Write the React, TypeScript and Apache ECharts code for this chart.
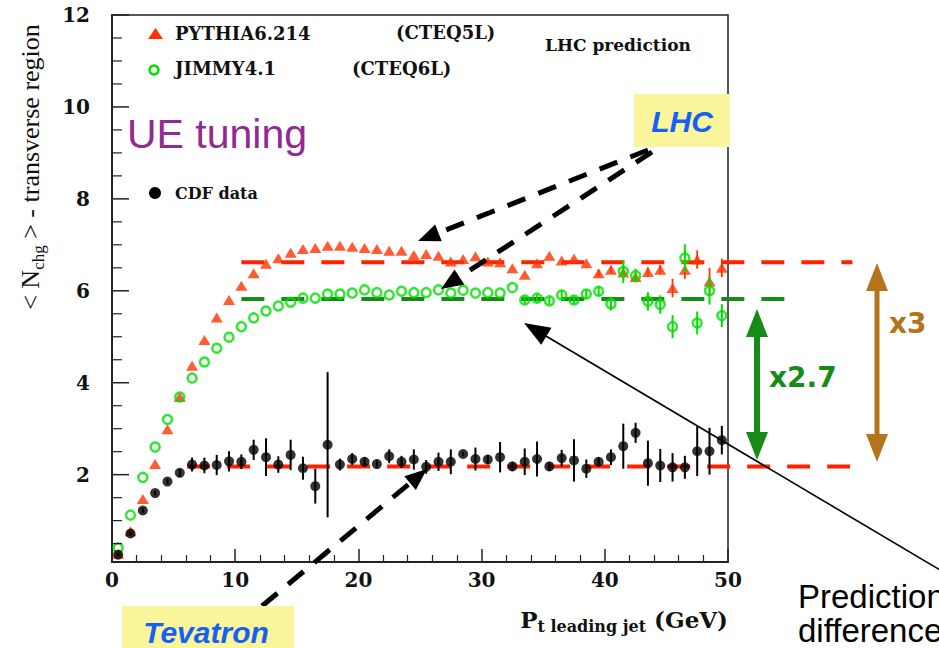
import React, { useEffect, useRef } from "react";
import * as echarts from "echarts";

// ---- data ----
const ptBins = [
  0.5, 1.5, 2.5, 3.5, 4.5, 5.5, 6.5, 7.5, 8.5, 9.5,
  10.5, 11.5, 12.5, 13.5, 14.5, 15.5, 16.5, 17.5, 18.5, 19.5,
  20.5, 21.5, 22.5, 23.5, 24.5, 25.5, 26.5, 27.5, 28.5, 29.5,
  30.5, 31.5, 32.5, 33.5, 34.5, 35.5, 36.5, 37.5, 38.5, 39.5,
  40.5, 41.5, 42.5, 43.5, 44.5, 45.5, 46.5, 47.5, 48.5, 49.5,
];

const cdfValues = [
  0.26, 0.72, 1.22, 1.6, 1.85, 2.04, 2.22, 2.2, 2.21, 2.29,
  2.28, 2.54, 2.38, 2.22, 2.43, 2.14, 1.75, 2.65, 2.22, 2.34,
  2.28, 2.23, 2.4, 2.28, 2.33, 2.17, 2.28, 2.28, 2.45, 2.34,
  2.33, 2.38, 2.18, 2.28, 2.34, 2.18, 2.36, 2.31, 2.13, 2.28,
  2.38, 2.62, 2.91, 2.25, 2.2, 2.16, 2.16, 2.51, 2.51, 2.75,
];
const cdfErrors = [
  0.03, 0.04, 0.05, 0.05, 0.06, 0.08, 0.15, 0.17, 0.22, 0.22,
  0.16, 0.22, 0.41, 0.18, 0.33, 0.25, 0.38, 1.58, 0.13, 0.13,
  0.1, 0.1, 0.15, 0.13, 0.22, 0.15, 0.2, 0.27, 0.05, 0.25,
  0.1, 0.33, 0.1, 0.29, 0.38, 0.1, 0.18, 0.46, 0.2, 0.1,
  0.17, 0.49, 0.22, 0.49, 0.36, 0.31, 0.25, 0.54, 0.51, 0.31,
];

const pythiaValues = [
  0.28, 0.77, 1.47, 2.23, 2.99, 3.69, 4.37, 4.93, 5.42, 5.8,
  6.11, 6.38, 6.59, 6.71, 6.83, 6.91, 6.93, 6.98, 6.98, 6.96,
  6.93, 6.91, 6.87, 6.87, 6.78, 6.8, 6.76, 6.64, 6.69, 6.75,
  6.64, 6.62, 6.49, 6.35, 6.6, 6.76, 6.66, 6.7, 6.6, 6.38,
  6.46, 6.4, 6.3, 6.41, 6.46, 6.06, 6.46, 6.68, 6.2, 6.5,
];
const pythiaErrors = [
  0, 0, 0, 0, 0, 0, 0, 0, 0, 0,
  0, 0, 0, 0, 0, 0, 0, 0, 0, 0,
  0, 0, 0, 0, 0, 0, 0, 0, 0, 0,
  0, 0, 0, 0, 0, 0, 0, 0, 0, 0.08,
  0.08, 0.15, 0.1, 0.1, 0.1, 0.2, 0.2, 0.2, 0.3, 0.2,
];

const jimmyValues = [
  0.41, 1.12, 1.94, 2.6, 3.2, 3.69, 4.1, 4.45, 4.75, 4.99,
  5.22, 5.41, 5.56, 5.67, 5.75, 5.84, 5.84, 5.93, 5.93, 5.95,
  6.02, 5.96, 5.91, 5.99, 5.96, 5.96, 6.02, 5.95, 6.01, 5.95,
  5.96, 5.95, 6.07, 5.8, 5.84, 5.78, 5.91, 5.8, 5.93, 5.99,
  5.72, 6.42, 6.33, 5.77, 5.7, 5.22, 6.71, 5.3, 6.0, 5.46,
];
const jimmyErrors = [
  0, 0, 0, 0, 0, 0, 0, 0, 0, 0,
  0, 0, 0, 0, 0, 0, 0, 0, 0, 0,
  0, 0, 0, 0, 0, 0, 0, 0, 0, 0,
  0, 0, 0, 0.08, 0.08, 0.08, 0.1, 0.08, 0.1, 0.1,
  0.15, 0.25, 0.15, 0.2, 0.2, 0.25, 0.3, 0.25, 0.3, 0.25,
];

// plateau reference levels (value, start pT, end pT)
const pythiaLevel = 6.62;
const pythiaLevelRange = [10.5, 60.1];
const jimmyLevel = 5.82;
const jimmyLevelRange = [10.5, 54.9];
const cdfLevel = 2.18;
const cdfLevelRange = [6.1, 60.5];

const xTickInterval = 10;
const yTickValues = [2, 4, 6, 8, 10, 12];
const yMinorTickValues = [
  0.5, 1, 1.5, 2.5, 3, 3.5, 4.5, 5, 5.5, 6.5, 7, 7.5,
  8.5, 9, 9.5, 10.5, 11, 11.5,
];

// ---- styles ----
const RED = "#FF3300";
const GREEN = "#00E000";
const DGREEN = "#178A17";
const BROWN = "#B3741A";
const YELLOW = "#FBF59B";
const BLUE = "#1560F5";
const SERIF_B = '"DejaVu Serif"';
const AXIS = "#222";

function head(tip: number[], from: number[], len: number, half: number, color: string) {
  const dx = tip[0] - from[0];
  const dy = tip[1] - from[1];
  const L = Math.hypot(dx, dy);
  const ux = dx / L;
  const uy = dy / L;
  const bx = tip[0] - ux * len;
  const by = tip[1] - uy * len;
  return {
    type: "polygon",
    z: 100,
    shape: {
      points: [
        [tip[0], tip[1]],
        [bx - uy * half, by + ux * half],
        [bx + uy * half, by - ux * half],
      ],
    },
    style: { fill: color },
  };
}

function arrow(
  from: number[],
  tip: number[],
  color: string,
  width: number,
  len: number,
  half: number,
  dash?: number[],
  double?: boolean
) {
  const dx = tip[0] - from[0];
  const dy = tip[1] - from[1];
  const L = Math.hypot(dx, dy);
  const ux = dx / L;
  const uy = dy / L;
  const start = double ? [from[0] + ux * (len - 2), from[1] + uy * (len - 2)] : from;
  const end = [tip[0] - ux * (len - 2), tip[1] - uy * (len - 2)];
  const els: any[] = [
    {
      type: "line",
      z: 100,
      shape: { x1: start[0], y1: start[1], x2: end[0], y2: end[1] },
      style: { stroke: color, lineWidth: width, lineDash: dash || null },
    },
    head(tip, from, len, half, color),
  ];
  if (double) els.push(head(from, tip, len, half, color));
  return els;
}

function txt(x: number, y: number, text: string, font: string, fill: string, align = "left") {
  return {
    type: "text",
    z: 100,
    x,
    y,
    style: {
      text,
      font,
      fill,
      align,
      verticalAlign: "middle",
      textAlign: align,
      textVerticalAlign: "middle",
    },
  };
}

function errSeries(values: number[], errors: number[], color: string, width: number, z: number) {
  return {
    type: "custom",
    silent: true,
    z,
    data: ptBins.map((x, i) => [x, values[i], errors[i]]),
    encode: { x: 0, y: 1 },
    renderItem: (_p: any, api: any) => {
      const x = api.value(0);
      const y = api.value(1);
      const e = api.value(2);
      if (!e) return { type: "group", children: [] };
      const a = api.coord([x, y - e]);
      const b = api.coord([x, y + e]);
      return {
        type: "line",
        shape: { x1: a[0], y1: a[1], x2: b[0], y2: b[1] },
        style: { stroke: color, lineWidth: width },
      };
    },
  };
}

export default function App() {
  const ref = useRef<HTMLDivElement>(null);
  useEffect(() => {
    if (!ref.current) return;
    const chart = echarts.init(ref.current, null, { renderer: "svg" });
    const labelFont = { fontFamily: SERIF_B, fontWeight: "bold" as const, fontSize: 20, color: "#111" };

    chart.setOption({
      animation: false,
      backgroundColor: "#fff",
      grid: {
        left: 112,
        right: 211,
        top: 15,
        bottom: 86,
        show: true,
        borderColor: AXIS,
        borderWidth: 1.5,
        backgroundColor: "transparent",
      },
      xAxis: {
        type: "value",
        min: 0,
        max: 50,
        interval: xTickInterval,
        axisLine: { show: true, onZero: false, lineStyle: { color: AXIS, width: 2 } },
        axisTick: { show: true, inside: true, length: 13, lineStyle: { color: AXIS, width: 1.5 } },
        minorTick: { show: true, splitNumber: 5, length: 7, lineStyle: { color: AXIS, width: 1.2 } },
        axisLabel: { ...labelFont, margin: 8 },
        splitLine: { show: false },
        minorSplitLine: { show: false },
      },
      yAxis: {
        type: "value",
        min: 0.1,
        max: 12,
        axisLine: { show: true, onZero: false, lineStyle: { color: AXIS, width: 2 } },
        axisTick: { show: false },
        axisLabel: { ...labelFont, margin: 22, customValues: yTickValues },
        splitLine: { show: false },
      },
      series: [
        errSeries(pythiaValues, pythiaErrors, RED, 1.8, 3),
        {
          type: "scatter",
          z: 4,
          data: ptBins.map((x, i) => [x, pythiaValues[i]]),
          symbol: "triangle",
          symbolSize: [12, 10],
          itemStyle: { color: RED },
        },
        errSeries(jimmyValues, jimmyErrors, GREEN, 2, 5),
        {
          type: "scatter",
          z: 6,
          data: ptBins.map((x, i) => [x, jimmyValues[i]]),
          symbol: "circle",
          symbolSize: 9,
          itemStyle: { color: "rgba(255,255,255,0)", borderColor: GREEN, borderWidth: 2.5 },
        },
        errSeries(cdfValues, cdfErrors, "#000", 2, 7),
        {
          type: "scatter",
          z: 8,
          data: ptBins.map((x, i) => [x, cdfValues[i]]),
          symbol: "circle",
          symbolSize: 10,
          itemStyle: { color: "#000" },
        },
      ],
    });

    const px = (x: number, y: number) =>
      chart.convertToPixel({ xAxisIndex: 0, yAxisIndex: 0 }, [x, y]) as number[];

    // plateau level lines drawn through the chart's own scales (they run past the frame)
    const levelLine = (level: number, range: number[], color: string) => {
      const a = px(range[0], level);
      const b = px(range[1], level);
      return {
        type: "line",
        z: 1,
        silent: true,
        shape: { x1: a[0], y1: a[1], x2: b[0], y2: b[1] },
        style: { stroke: color, lineWidth: 4, lineDash: [23, 17] },
      };
    };

    // y-axis ticks (inside) through the chart's scale
    const x0 = px(0, 1)[0];
    const yTicks = [
      ...yTickValues.map((v) => {
        const p = px(0, v);
        return {
          type: "line",
          z: 90,
          silent: true,
          shape: { x1: x0, y1: p[1], x2: x0 + 17, y2: p[1] },
          style: { stroke: AXIS, lineWidth: 1.5 },
        };
      }),
      ...yMinorTickValues.map((v) => {
        const p = px(0, v);
        return {
          type: "line",
          z: 90,
          silent: true,
          shape: { x1: x0, y1: p[1], x2: x0 + 10, y2: p[1] },
          style: { stroke: AXIS, lineWidth: 1.2 },
        };
      }),
    ];

    const graphic: any[] = [
      levelLine(cdfLevel, cdfLevelRange, "#FF2200"),
      levelLine(pythiaLevel, pythiaLevelRange, "#FF2200"),
      levelLine(jimmyLevel, jimmyLevelRange, DGREEN),
      ...yTicks,
      // legend
      {
        type: "polygon",
        z: 100,
        shape: { points: [[148, 39], [163, 39], [155.5, 28]] },
        style: { fill: RED },
      },
      txt(175, 33, "PYTHIA6.214", `bold 18px ${SERIF_B}`, "#111"),
      txt(396, 32, "(CTEQ5L)", `bold 18px ${SERIF_B}`, "#111"),
      {
        type: "circle",
        z: 100,
        shape: { cx: 154, cy: 70, r: 4.5 },
        style: { fill: "none", stroke: GREEN, lineWidth: 2.5 },
      },
      txt(175, 68, "JIMMY4.1", `bold 18px ${SERIF_B}`, "#111"),
      txt(352, 68, "(CTEQ6L)", `bold 18px ${SERIF_B}`, "#111"),
      txt(545, 45, "LHC prediction", `bold 17px ${SERIF_B}`, "#111"),
      {
        type: "circle",
        z: 100,
        shape: { cx: 155, cy: 193, r: 6 },
        style: { fill: "#000" },
      },
      txt(175, 193, "CDF data", `bold 16px ${SERIF_B}`, "#111"),
      // UE tuning
      txt(127, 134, "UE tuning", '41px "Liberation Sans"', "#912A92"),
      // dashed black arrows
      ...arrow([648, 150], [418, 241], "#000", 5, 22, 9, [19, 14]),
      ...arrow([652, 152], [441, 289], "#000", 5, 22, 9, [19, 14]),
      ...arrow([262, 606], [427, 469], "#000", 5, 22, 9, [20, 14]),
      // LHC box
      { type: "rect", z: 100, shape: { x: 634, y: 94, width: 96, height: 53 }, style: { fill: YELLOW } },
      txt(682, 121, "LHC", 'italic bold 30px "Liberation Sans"', BLUE, "center"),
      // Tevatron box
      { type: "rect", z: 100, shape: { x: 122, y: 606, width: 172, height: 50 }, style: { fill: YELLOW } },
      txt(206, 632, "Tevatron", 'italic bold 30px "Liberation Sans"', BLUE, "center"),
      // ratio arrows
      ...arrow([757, 309], [757, 460], DGREEN, 6, 28, 11, undefined, true),
      ...arrow([877, 263], [877, 462], BROWN, 5, 28, 11, undefined, true),
      txt(769, 377, "x2.7", 'bold 28px "DejaVu Sans"', DGREEN),
      txt(889, 323, "x3", 'bold 28px "DejaVu Sans"', BROWN),
      // thin black arrow
      ...arrow([945, 573], [524, 323], "#000", 1.6, 26, 10),
      txt(798, 596, "Prediction", '33px "Liberation Sans"', "#000"),
      txt(798, 630, "differences", '33px "Liberation Sans"', "#000"),
      // axis titles
      {
        type: "text",
        z: 100,
        x: 30,
        y: 167,
        rotation: Math.PI / 2,
        style: {
          text: "{a|< N}{s|chg}{a| > - transverse region}",
          align: "center",
          verticalAlign: "middle",
          textAlign: "center",
          textVerticalAlign: "middle",
          fill: "#111",
          rich: {
            a: { font: '26px "Liberation Serif"', lineHeight: 34, fill: "#111" },
            s: { font: '17px "Liberation Serif"', lineHeight: 17, verticalAlign: "bottom", fill: "#111" },
          },
        },
      },
      {
        type: "text",
        z: 100,
        x: 728,
        y: 619,
        style: {
          text: "{p|P}{s|t leading jet}{g| (GeV)}",
          align: "right",
          verticalAlign: "middle",
          textAlign: "right",
          textVerticalAlign: "middle",
          fill: "#111",
          rich: {
            p: { font: `bold 23px ${SERIF_B}`, lineHeight: 30, fill: "#111" },
            s: { font: `bold 16px ${SERIF_B}`, lineHeight: 17, verticalAlign: "bottom", fill: "#111" },
            g: { font: `bold 23px ${SERIF_B}`, lineHeight: 30, fill: "#111" },
          },
        },
      },
    ];

    chart.setOption({ graphic });
    return () => chart.dispose();
  }, []);
  return (
    <div
      ref={ref}
      style={{ position: "absolute", left: 0, top: 0, width: 939, height: 648, background: "#fff" }}
    />
  );
}
